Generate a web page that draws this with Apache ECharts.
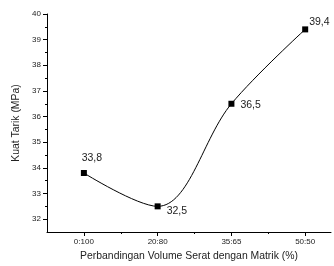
<!DOCTYPE html>
<html><head><meta charset="utf-8">
<script src="https://cdn.jsdelivr.net/npm/echarts@6/dist/echarts.min.js"></script>
<style>html,body{margin:0;padding:0;background:#fff}#c{width:334px;height:266px}</style>
</head><body><div id="c"></div>
<script>
const categories = ['0:100', '20:80', '35:65', '50:50'];
const values = [33.8, 32.5, 36.5, 39.4];
const valueLabels = ['33,8', '32,5', '36,5', '39,4'];
const yTicks = [32, 33, 34, 35, 36, 37, 38, 39, 40];
const yMinorTicks = [32.5, 33.5, 34.5, 35.5, 36.5, 37.5, 38.5, 39.5];
const xTickPos = [0, 1, 2, 3];
const xMinorTicks = [0.5, 1.5, 2.5];
const xTitle = 'Perbandingan Volume Serat dengan Matrik (%)';
const yTitle = 'Kuat Tarik (MPa)';

const font = 'Liberation Sans, Arial, sans-serif';
const labelOffsets = [[8, -1], [1, 5], [1, 1], [-4, -7]];
const labelPos = ['top', 'right', 'right', 'right'];

const chart = echarts.init(document.getElementById('c'));
const axisLine = {show: true, onZero: false, lineStyle: {color: '#000', width: 1}};
chart.setOption({
  animation: false,
  grid: {left: 47, right: 3, top: 14, bottom: 33},
  xAxis: [{
    type: 'value', min: -0.5, max: 3.35,
    axisLine: axisLine,
    axisTick: {show: true, customValues: xTickPos, length: 4, lineStyle: {color: '#000'}},
    axisLabel: {customValues: xTickPos, formatter: v => categories[Math.round(v)] || '',
      fontFamily: font, fontSize: 8, color: '#222', margin: 6},
    splitLine: {show: false},
    name: xTitle, nameLocation: 'middle', nameGap: 19,
    nameTextStyle: {fontFamily: font, fontSize: 10.4, color: '#222'}
  }, {
    type: 'value', min: -0.5, max: 3.35, position: 'bottom',
    axisLine: {show: false, onZero: false},
    axisTick: {show: true, customValues: xMinorTicks, length: 2, lineStyle: {color: '#000'}},
    axisLabel: {show: false}, splitLine: {show: false}
  }],
  yAxis: [{
    type: 'value', min: 31.5, max: 40,
    axisLine: axisLine,
    axisTick: {show: true, customValues: yTicks, length: 4, lineStyle: {color: '#000'}},
    axisLabel: {customValues: yTicks, fontFamily: font, fontSize: 8, color: '#222', margin: 6},
    splitLine: {show: false},
    name: yTitle, nameLocation: 'middle', nameGap: 25,
    nameTextStyle: {fontFamily: font, fontSize: 10.4, color: '#222'}
  }, {
    type: 'value', min: 31.5, max: 40, position: 'left',
    axisLine: {show: false, onZero: false},
    axisTick: {show: true, customValues: yMinorTicks, length: 2, lineStyle: {color: '#000'}},
    axisLabel: {show: false}, splitLine: {show: false}
  }],
  series: [{
    type: 'line', smooth: 0.35,
    data: values.map((v, i) => ({
      value: [i, v],
      label: {show: true, position: labelPos[i], offset: labelOffsets[i], formatter: valueLabels[i]}
    })),
    symbol: 'rect', symbolSize: 6,
    itemStyle: {color: '#000'},
    lineStyle: {color: '#000', width: 1},
    label: {fontFamily: font, fontSize: 10.5, color: '#222'}
  }]
});
</script></body></html>
